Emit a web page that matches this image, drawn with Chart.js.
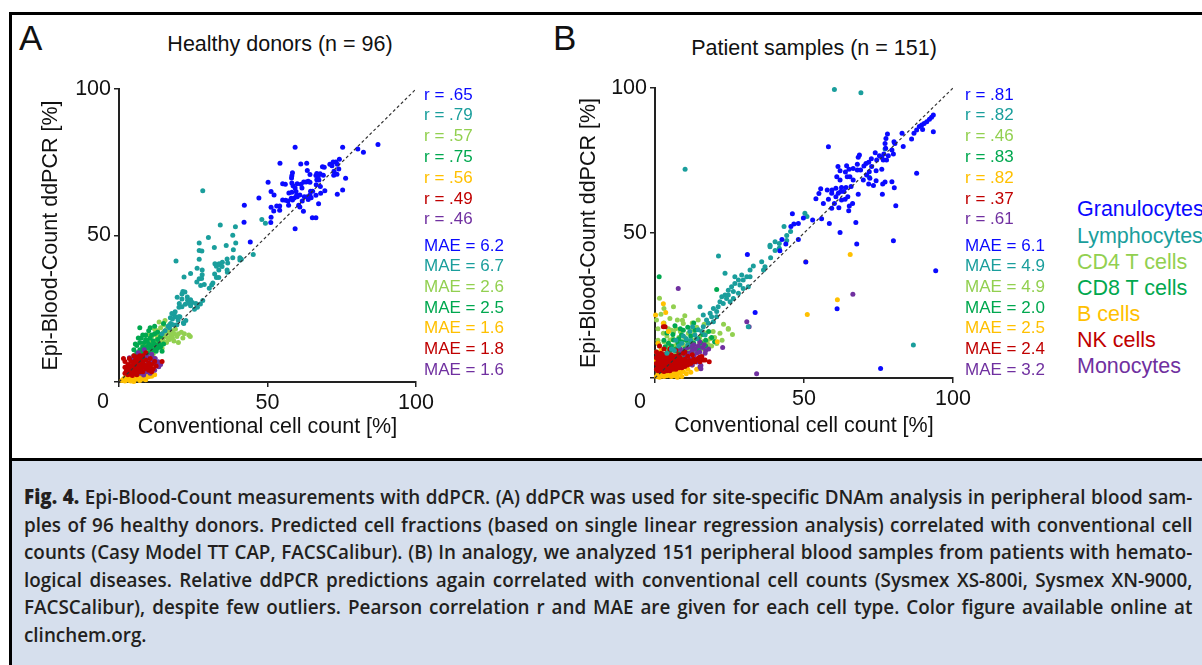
<!DOCTYPE html>
<html>
<head>
<meta charset="utf-8">
<title>Epi-Blood-Count ddPCR</title>
<script src="https://cdn.jsdelivr.net/npm/chart.js@4.4.1/dist/chart.umd.min.js"></script>
<style>
  body {
    margin: 0;
    width: 1202px;
    height: 665px;
    overflow: hidden;
    position: relative;
    background: #fff;
    font-family: "Liberation Sans", Arial, sans-serif;
    color: #111;
  }
  .rule { position: absolute; background: #000; }
  canvas { position: absolute; }
  .lbl { position: absolute; white-space: nowrap; line-height: 1; }
  #caption {
    position: absolute;
    left: 12px;
    top: 461px;
    width: 1190px;
    height: 204px;
    background: #d6dfed;
  }
  #captionText {
    position: absolute;
    left: 12px;
    top: 22px;
    width: 1270px;
    transform: scaleX(0.92);
    transform-origin: 0 0;
    font-family: "Open Sans", "Noto Sans", sans-serif;
    font-weight: 600;
    font-size: 20.5px;
    line-height: 27.6px;
    color: #231f20;
  }
  #captionText div { text-align: justify; text-align-last: justify; }
  #captionText div.last { text-align-last: left; }
  #captionText b { font-weight: 800; }
</style>
</head>
<body>
<div class="rule" style="left:9px;top:12px;width:1193px;height:3px"></div>
<div class="rule" style="left:9px;top:12px;width:3px;height:653px"></div>
<div class="rule" style="left:9px;top:458px;width:1193px;height:3px"></div>

<canvas id="chartA" width="421" height="375" style="left:20px;top:70px"></canvas>
<canvas id="chartB" width="422" height="372" style="left:556px;top:69px"></canvas>

<div id="caption">
  <div id="captionText">
    <div><b>Fig. 4.</b> Epi-Blood-Count measurements with ddPCR. (A) ddPCR was used for site-specific DNAm analysis in peripheral blood sam-</div>
    <div>ples of 96 healthy donors. Predicted cell fractions (based on single linear regression analysis) correlated with conventional cell</div>
    <div>counts (Casy Model TT CAP, FACSCalibur). (B) In analogy, we analyzed 151 peripheral blood samples from patients with hemato-</div>
    <div>logical diseases. Relative ddPCR predictions again correlated with conventional cell counts (Sysmex XS-800i, Sysmex XN-9000,</div>
    <div>FACSCalibur), despite few outliers. Pearson correlation r and MAE are given for each cell type. Color figure available online at</div>
    <div class="last">clinchem.org.</div>
  </div>
</div>

<script>
// cell types, colours and per-panel statistics
const cellTypes = ["Granulocytes", "Lymphocytes", "CD4 T cells", "CD8 T cells", "B cells", "NK cells", "Monocytes"];
const cellColors = ["#0a0aff", "#1a9e9c", "#92d050", "#00a84f", "#ffc000", "#c00000", "#7030a0"];
const rA = [".65", ".79", ".57", ".75", ".56", ".49", ".46"];
const maeA = ["6.2", "6.7", "2.6", "2.5", "1.6", "1.8", "1.6"];
const rB = [".81", ".82", ".46", ".83", ".82", ".37", ".61"];
const maeB = ["6.1", "4.9", "4.9", "2.0", "2.5", "2.4", "3.2"];
const axisTicks = [0, 50, 100];
const diag = [[0, 0], [100, 100]];

// A: healthy donors (n = 96), [conventional %, ddPCR %]
const granA = [[59.3,80.1],[75.3,80.1],[80.4,79.5],[87.2,81.1],[82.3,78.4],[74.2,76.0],[54.2,74.7],[61.2,74.4],[63.2,74.7],[72.1,75.1],[73.0,75.1],[71.0,74.3],[73.5,74.3],[71.7,73.8],[68.5,73.5],[69.1,73.3],[58.4,71.4],[58.2,70.4],[58.1,69.6],[63.4,72.2],[72.4,71.9],[74.0,72.7],[67.7,71.1],[64.3,70.8],[66.3,70.5],[72.3,70.6],[73.4,70.9],[50.2,68.2],[55.1,67.7],[56.0,67.5],[58.2,67.9],[60.0,67.7],[58.6,67.0],[61.3,67.5],[62.2,68.3],[63.0,68.3],[63.7,68.5],[64.3,68.2],[66.6,69.0],[67.3,68.9],[76.3,69.5],[66.4,67.3],[61.6,66.2],[59.3,66.2],[67.8,66.7],[58.2,64.8],[59.6,65.0],[57.2,64.5],[64.5,65.1],[65.2,65.1],[69.3,65.3],[51.2,65.0],[52.2,63.8],[64.3,63.8],[66.3,63.7],[73.5,64.1],[75.3,65.5],[47.1,62.8],[55.1,62.1],[56.1,62.0],[56.9,61.8],[58.0,62.7],[59.0,62.8],[58.4,62.1],[60.0,63.2],[61.7,61.8],[62.4,63.2],[63.7,62.3],[64.7,62.9],[67.2,60.8],[67.9,64.4],[42.2,60.3],[51.2,59.6],[53.1,60.1],[54.1,60.1],[52.1,58.4],[54.1,58.6],[57.1,60.3],[60.5,60.3],[62.1,58.3],[51.2,56.2],[51.1,54.4],[42.1,54.5],[65.1,56.1],[66.3,56.1],[59.3,52.3],[44.2,47.8],[60.9,59.7],[63.4,63.2],[60.9,63.8],[59.8,63.7],[66.6,71.2],[67.1,70.1],[68.8,70.6]];
const lymphA = [[28.2,65.3],[34.1,53.6],[39.2,53.0],[30.1,49.3],[27.0,47.4],[38.3,50.1],[39.3,47.4],[36.1,46.6],[32.1,45.9],[27.0,44.9],[27.9,44.7],[40.7,42.4],[38.3,42.4],[41.2,41.9],[45.2,43.5],[48.1,55.5],[49.3,54.2],[19.2,41.3],[27.0,41.9],[33.7,40.4],[32.3,40.4],[32.8,39.5],[34.1,39.9],[36.4,42.0],[36.6,40.6],[36.4,38.2],[36.5,37.5],[26.3,38.8],[28.0,38.2],[21.9,35.8],[24.1,37.0],[28.0,36.6],[27.0,35.2],[27.8,35.3],[26.2,34.1],[27.5,32.9],[28.7,33.3],[32.2,36.9],[32.8,35.7],[33.6,35.7],[31.6,33.8],[31.2,33.1],[30.4,32.0],[33.6,38.2],[34.7,39.4],[21.5,30.9],[21.2,30.0],[22.2,30.7],[19.6,28.9],[21.2,28.3],[23.0,29.0],[23.1,27.9],[24.1,28.1],[24.7,27.1],[24.1,26.0],[25.9,26.8],[26.4,25.5],[20.3,26.8],[20.2,25.5],[22.3,26.5],[18.9,24.0],[18.5,23.0],[17.3,21.9],[19.0,22.3],[20.5,22.3],[19.9,21.2],[21.7,20.2],[27.4,26.6],[28.2,27.8],[25.4,24.8],[34.8,40.9],[38.5,45.1],[40.7,41.6],[17.4,20.0],[18.2,19.5],[21.2,25.7],[23.5,26.9],[17.8,23.4],[20.1,22.3],[21.8,20.0],[19.5,19.5],[16.5,19.0],[15.5,17.5],[18.0,21.5],[17.0,18.5],[22.5,21.0],[14.5,16.5]];
const cd4A = [[7,9],[7.5,11],[8,10],[8,12.5],[8.5,9.5],[9,11],[9,13],[9.5,12],[10,10.5],[10,14],[10.5,12],[11,11],[11,13.5],[11,15.5],[11.5,12.5],[12,14],[12,11.5],[12.5,16],[12.5,13],[13,12],[13,15],[13,17.5],[13.5,14],[14,13],[14,16],[14,18.5],[14.5,15],[15,14],[15,17],[15,19.5],[15.5,15.5],[16,13.5],[16,16.5],[16,18],[16.5,15],[17,14.5],[17,17],[17,19.5],[17.5,16],[18,15],[18,17.5],[18.5,14],[18.5,16.5],[19,18],[19.5,15.5],[20,16.5],[20,13.5],[21,17],[21.5,15],[22,16.5],[23.5,16],[24,15.5],[10,16],[12,18],[13.5,20.5],[15.5,21],[9,8],[11.5,9.5],[14.5,11.5],[8,7.5]];
const cd8A = [[4.5,7],[5,9],[5,11],[5.5,8],[6,10],[6,12.5],[6.5,9],[7,11],[7,13.5],[7,18.5],[7.5,10],[7.5,15],[8,12],[8,8.5],[8.5,13.5],[8.5,10.5],[9,11.5],[9,16],[9,9],[9.5,14],[9.5,12],[10,10],[10,13],[10,17.5],[10.5,11.5],[10.5,15],[11,12.5],[11,9.5],[11.5,14],[11.5,11],[12,13],[12,16.5],[12.5,10.5],[12.5,12],[13,14.5],[13,11.5],[13.5,13],[14,12],[14,15.5],[14.5,10.5],[15,13],[15,20],[6,7],[8,7],[9.5,7.5],[11,8],[6.5,15],[8,16],[10.5,18.5],[12,19],[13,17],[7.5,6.5],[5.5,13],[9,14.5],[11,16]];
const bcellA = [[1,0.5],[1.5,1],[2,0.3],[2,1.5],[2.5,0.8],[3,1.2],[3,2],[3.5,0.5],[3.5,1.8],[4,1],[4,2.5],[4.5,1.5],[5,0.8],[5,2],[5,3],[5.5,1.3],[5.5,2.5],[6,1],[6,2],[6,3.2],[6.5,1.5],[6.5,2.8],[7,1.2],[7,2.3],[7.5,1.8],[7.5,3],[8,1],[8,2.5],[8.5,2],[9,1.5],[9,3],[9.5,2.2],[10,1.8],[10.5,3.8],[11,2],[4,0.3],[3,3],[7,0.5],[8.5,3.5],[2.5,2.5],[5,0.2],[6,4],[4.5,3.5],[9,0.8],[12,2.5]];
const nkA = [[2,3],[2,5],[2.5,4],[3,2.5],[3,4.5],[3,6],[3.5,3.5],[3.5,5.5],[4,3],[4,4.5],[4,7],[4.5,4],[4.5,5.5],[5,3],[5,5],[5,6.5],[5.5,4],[5.5,7.5],[6,3.5],[6,5],[6,6],[6.5,4.5],[6.5,7],[7,3.5],[7,5.5],[7,8],[7.5,4.5],[7.5,6.5],[8,5],[8,7],[8,3.5],[8.5,6],[9,4.5],[9,7.5],[9,10],[9.5,5.5],[10,4],[10,6.5],[10.5,5],[10.5,8],[11,6],[11.5,4.5],[12,7],[12.5,5.5],[14.5,7],[1.5,8],[2,7],[5,9],[6,8.5],[8,9],[3.5,8],[4.5,2.2],[6,2.5],[11,3.5],[7,9]];
const monoA = [[7.2,7.7],[8.9,9.2],[11.7,6.9],[12.6,5.8],[13.4,5.2],[11.1,4.1],[9.4,3.5],[8.3,2.4],[6.1,5.2],[12.2,8.0],[3.5,8.3],[4.4,7.5],[11.5,8.1],[13.2,6.9],[9.9,6.6],[5,4],[6.5,3.5],[7.5,5],[8,6.5],[9,4.5],[10,5.5],[10.5,7.5],[7,9],[5.5,6],[6,8],[9.5,8.5],[10.5,3],[8.5,5.5],[12,4],[14,6],[4.5,5.5],[7,3],[11,9.5],[6.5,10],[8.5,11]];

// B: patient samples (n = 151)
const granB = [[93.4,90.7],[92.8,89.9],[92.1,89.2],[91.2,88.4],[90.3,87.8],[89.5,87.2],[88.7,86.7],[87.8,85.5],[86.9,84.4],[86.1,82.4],[93.4,84.9],[89.8,85.7],[82.9,84.4],[83.3,79.8],[78.0,84.1],[77.5,82.6],[77.2,80.9],[77.4,79.2],[80.2,81.5],[80.5,80.9],[79.5,78.6],[80.0,77.2],[78.3,76.6],[76.8,77.2],[77.7,75.2],[76.1,76.1],[75.3,76.6],[73.9,77.7],[74.4,75.2],[72.6,75.6],[71.7,74.4],[70.8,74.0],[70.1,73.1],[68.6,76.9],[68.2,76.1],[67.9,73.7],[69.0,71.7],[67.9,71.7],[66.5,72.2],[65.1,72.0],[64.3,73.2],[63.9,71.0],[64.5,69.4],[65.4,69.4],[62.1,71.5],[61.4,72.9],[61.0,69.4],[62.1,68.3],[62.6,65.7],[63.4,64.3],[62.3,64.3],[61.5,63.7],[60.7,65.4],[59.4,64.8],[57.8,64.8],[55.6,65.3],[55.0,63.6],[54.0,61.8],[56.5,60.2],[58.2,61.6],[60.7,62.5],[62.6,61.4],[63.8,61.6],[64.7,62.5],[65.2,59.3],[66.3,60.2],[65.0,57.7],[61.7,58.7],[60.2,60.2],[59.3,58.5],[59.3,63.7],[58.2,79.7],[87.8,70.6],[79.5,67.7],[80.3,65.6],[77.2,67.6],[76.4,66.9],[73.3,66.4],[71.7,66.9],[68.2,63.4],[71.9,71.1],[72.7,72.9],[74.2,71.5],[76.1,72.0],[76.6,75.2],[80.8,59.4],[80.0,47.3],[76.3,63.4],[58.5,53.3],[55.9,54.9],[52.9,54.5],[49.8,55.2],[48.1,53.3],[46.6,53.1],[46.1,56.6],[45.6,52.2],[43.9,46.2],[42.6,47.8],[41.9,43.9],[48.1,47.8],[62.1,50.2],[67.4,53.6],[67.7,46.2],[50.6,40.0],[94.2,37.0],[69.9,68.3],[71.0,70.0],[66.5,68.3],[65.8,66.0],[64.1,65.7],[72.1,68.9],[74.2,68.0],[31.0,42.6],[33.6,22.6],[61.1,23.9],[75.7,3.3]];
const lymphB = [[60.2,99.5],[69.1,98.4],[71.9,69.2],[77.2,79.0],[50.3,56.8],[51.0,55.7],[43.3,52.2],[45.5,50.5],[44.2,49.1],[44.2,47.4],[40.3,44.0],[38.6,45.8],[41.7,44.7],[38.8,41.5],[10.1,72.0],[86.7,11.4],[21.3,42.1],[31.3,17.7],[38.6,45.3],[40.3,47.0],[41.7,46.4],[36.9,38.4],[36.4,37.2],[35.8,40.1],[33.0,38.6],[31.9,37.2],[30.8,34.9],[31.9,34.9],[29.6,33.8],[29.1,35.5],[28.0,33.8],[26.8,32.6],[28.5,32.1],[25.7,31.5],[26.3,29.8],[24.6,30.3],[23.5,28.6],[24.0,27.4],[22.4,28.0],[21.8,26.3],[22.9,25.7],[25.2,26.3],[26.3,27.4],[28.0,29.2],[29.6,30.9],[31.3,31.5],[21.2,24.6],[19.6,24.0],[20.7,22.9],[18.5,22.3],[19.0,21.1],[17.3,20.0],[16.2,21.7],[15.1,24.6],[17.9,18.9],[16.2,17.7],[14.5,16.6],[19.6,19.4],[15.7,16.0],[13.4,14.8],[16.8,14.8],[23.5,36.1],[26.8,34.9],[24.6,28.6],[20.7,21.1],[12.6,17.7],[11.7,16.0],[10.5,13.5],[9,12],[12,13],[14,13.5],[8,11],[6.5,9.5],[11,11.5],[7,13],[5.5,10],[9.5,14.5],[4,8.5]];
const cd4B = [[1.5,27.5],[6.2,24.6],[9.2,19.9],[2.8,15.4],[6.2,15.9],[9.5,18.8],[11.2,15.4],[5.0,13.1],[3.9,10.8],[9.5,11.4],[14.0,10.2],[18.0,11.4],[20.7,11.9],[21.8,15.4],[24.6,16.8],[24.6,17.1],[12.9,13.1],[2,22],[3,19],[4.5,17],[1,13],[0.5,9],[1.5,11],[2,7.5],[3,12.5],[4,14.5],[5.5,16.5],[7,17],[8,14],[7.5,12],[6.5,11],[8.5,16],[10,14],[11,12.5],[12,16.5],[13,15],[14,17.5],[15,14],[16,12.5],[17,15.5],[18.5,13.5],[19.5,16],[20,14],[22.5,13],[16,10],[13,11],[11,9.5],[9,8.5],[7,9],[5,8],[3.5,6.5],[1,5],[2.5,4.5],[4,10],[6,13.5],[8,10],[10.5,10.5],[12,9],[15,12],[17.5,12.5],[19,11],[1,17],[0.5,20],[3,24],[5,20.5],[7.5,20],[10,21.5],[12.5,19],[14.5,20],[16.5,18.5],[3,8],[6,6.5],[23,18.5],[26,15]];
const cd8B = [[1.4,34.9],[20.7,30.5],[7.8,11.9],[3.4,10.8],[12.3,10.8],[6.2,13.1],[8.9,14.8],[1.1,11.9],[2,9],[3,13],[4.5,12],[5,9.5],[6,15],[7,10],[8,8.5],[9,12.5],[10,10],[10.5,13],[11,8.5],[11.5,11.5],[13,12],[14,10],[14.5,13.5],[15.5,12],[16,15],[17,13],[18,16],[13.5,16.5],[12,14.5],[9.5,16.5],[6.5,7.5],[4,7],[2.5,6],[1,8],[5.5,11],[8,13.5],[10,7.5],[12.5,9],[15,10.5],[17,11],[19,14],[20,12.5],[11,17.5],[6.7,18],[4,15.5],[8.5,17],[13,19]];
const bcellB = [[0.2,21.7],[2.8,25.6],[3.6,22.6],[50.6,40.1],[65.5,42.6],[61.2,27.0],[51.1,21.9],[20.9,12.5],[2.8,18.9],[4.5,16],[1,12],[2,9.5],[10.1,4.0],[0.5,0.5],[1,1.5],[1.5,0.3],[2,2],[2.5,1],[3,0.5],[3,2.8],[3.5,1.5],[4,0.8],[4,3.5],[4.5,2],[5,1],[5,3],[5.5,0.5],[5.5,2.2],[6,1.5],[6,3.5],[6.5,0.8],[7,2.5],[7,4.2],[7.5,1.2],[8,3],[8.5,1.8],[9,0.5],[9,3.5],[9.5,2.2],[10.5,1.5],[11,3],[12,2],[1,3],[2,4.5],[0.5,6],[3,5.5],[6,5],[8,5.5],[12.5,4.5],[14,3],[2,0.8],[1,2.5],[3.5,4.2],[7.5,0.3]];
const nkB = [[2.8,17.7],[14.0,6.2],[15.1,5.6],[16.8,6.2],[15.7,7.4],[12.3,5.6],[18.2,5.6],[15.1,7.2],[14.5,6.8],[16.2,6.2],[13.4,5.6],[3.4,17.7],[0.5,3],[0.5,5],[0.5,7],[0.5,9],[1,2.5],[1,4],[1,6],[1,8],[1.5,3],[1.5,5],[1.5,7],[2,2.5],[2,4],[2,6],[2,8.5],[2.5,3],[2.5,5],[2.5,7.5],[3,2.2],[3,4],[3,6],[3,8],[3.5,3],[3.5,5],[3.5,7],[4,2.5],[4,4],[4,6],[4,8.5],[4.5,3.5],[4.5,5.5],[4.5,7.5],[5,2.5],[5,4.5],[5,6.5],[5.5,3.5],[5.5,5.5],[5.5,8],[6,3],[6,4.8],[6,7],[6.5,4],[6.5,6],[7,3],[7,5],[7,7.5],[7.5,4.2],[7.5,6.5],[8,3.5],[8,5.5],[8,8],[8.5,4.5],[8.5,7],[9,3.5],[9,6],[9.5,5],[9.5,8.5],[10,4],[10,6.5],[10.5,5.5],[11,4.5],[11,7.5],[11.5,6],[12,5],[12.5,8],[13,6.5],[7,9.5],[3,10],[1.5,11],[5,10],[10,9]];
const monoB = [[7.8,30.9],[30.8,19.4],[31.6,17.7],[22.7,10.5],[34.1,1.5],[15.1,3.9],[66.4,28.9],[15.4,4.3],[15.4,3.2],[7.3,6.2],[8,7.5],[9,8.5],[9.5,6.5],[10,9.5],[10.5,7.5],[11,10.5],[11.5,8.5],[12,6.5],[12.5,9.5],[13,11.5],[13,7.5],[13.5,10],[14,8.5],[14.5,11],[15,9],[15.5,7],[16,10.5],[16.8,8.5],[16.5,11.5],[17,9.5],[12,11],[11,6],[9,5.5],[14,5.5],[18,10],[10,4.5],[8.5,10],[15,12.5],[12.5,4.5],[6,5]];

const FONT = '"Liberation Sans", Arial, sans-serif';
Chart.defaults.font.family = FONT;

// index into cellTypes, listed top layer first (Chart.js draws dataset 0 last)
const drawOrder = [0, 1, 5, 6, 4, 3, 2];

function toPoints(pairs) {
  return pairs.map((p) => ({ x: p[0], y: p[1] }));
}

function buildDatasets(series) {
  const sets = [
    {
      label: "identity",
      data: toPoints(diag),
      showLine: true,
      borderColor: "#333",
      borderWidth: 1.2,
      borderDash: [3, 2.5],
      pointRadius: 0,
      clip: false,
    },
  ];
  drawOrder.forEach((i) => {
    sets.push({
      label: cellTypes[i],
      data: toPoints(series[i]),
      backgroundColor: cellColors[i],
      borderWidth: 0,
      pointRadius: 2.5,
      pointHoverRadius: 2.5,
      clip: false,
    });
  });
  return sets;
}

function axis(title, titlePad, isX) {
  return {
    type: "linear",
    min: 0,
    max: 100,
    afterBuildTicks: (scale) => {
      scale.ticks = axisTicks.map((v) => ({ value: v }));
    },
    afterFit: (scale) => {
      if (isX) scale.height = 63;
      else scale.width = 99;
    },
    ticks: {
      color: "#111",
      font: { size: 21.5 },
      padding: 3,
      maxRotation: 0,
      callback: (v) => (v === 0 ? "" : v),
    },
    grid: { drawOnChartArea: false, tickLength: 5, color: "#222", lineWidth: 1.5 },
    border: { color: "#222", width: 2 },
    title: {
      display: true,
      text: title,
      color: "#111",
      font: { size: 21.5 },
      padding: isX ? { top: 0, bottom: titlePad } : { top: titlePad, bottom: 0 },
    },
  };
}

function renderPanel(canvasId, series, yTitlePad, xTitlePad) {
  const ctx = document.getElementById(canvasId);
  new Chart(ctx, {
    type: "scatter",
    data: { datasets: buildDatasets(series) },
    options: {
      responsive: false,
      animation: false,
      devicePixelRatio: 1,
      layout: { padding: { top: 19, right: 25, left: 0, bottom: 0 } },
      plugins: { legend: { display: false }, tooltip: { enabled: false } },
      scales: {
        x: axis("Conventional cell count [%]", xTitlePad, true),
        y: axis("Epi-Blood-Count ddPCR [%]", yTitlePad, false),
      },
    },
  });
}

/** Put a line of text with its vertical centre at yc */
function addText(txt, x, yc, size, color, center) {
  const el = document.createElement("div");
  el.className = "lbl";
  el.textContent = txt;
  el.style.fontSize = size + "px";
  el.style.color = color || "#111";
  el.style.left = x + "px";
  el.style.top = yc - size * 0.49 + "px";
  if (center) el.style.transform = "translateX(-50%)";
  document.body.appendChild(el);
}

function addStats(x, rVals, maeVals) {
  rVals.forEach((r, i) => addText("r = " + r, x, 94 + i * 20.8, 17, cellColors[i]));
  maeVals.forEach((m, i) => addText("MAE = " + m, x, 245 + i * 20.7, 17, cellColors[i]));
}

renderPanel("chartA", [granA, lymphA, cd4A, cd8A, bcellA, nkA, monoA], 18, 5);
renderPanel("chartB", [granB, lymphB, cd4B, cd8B, bcellB, nkB, monoB], 20, 2);

addText("A", 19, 37.5, 35);
addText("B", 553, 37, 35);
addText("Healthy donors (n = 96)", 280, 45, 21.5, "#111", true);
addText("Patient samples (n = 151)", 814, 49, 21.5, "#111", true);
addText("0", 103, 402, 21.5, "#111", true);
addText("0", 640, 402, 21.5, "#111", true);
addStats(424, rA, maeA);
addStats(965, rB, maeB);
cellTypes.forEach((name, i) => addText(name, 1077, 210 + i * 26.1, 21.5, cellColors[i]));
</script>
</body>
</html>
